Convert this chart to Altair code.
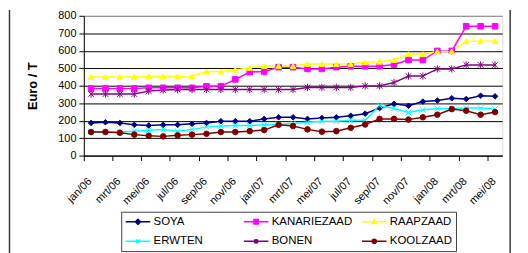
import altair as alt
import pandas as pd

months = ["jan/06", "feb/06", "mrt/06", "apr/06", "mei/06", "jun/06", "jul/06", "aug/06",
          "sep/06", "okt/06", "nov/06", "dec/06", "jan/07", "feb/07", "mrt/07", "apr/07",
          "mei/07", "jun/07", "jul/07", "aug/07", "sep/07", "okt/07", "nov/07", "dec/07",
          "jan/08", "feb/08", "mrt/08", "apr/08", "mei/08"]
tick_labels = months[::2]

series_names = ["SOYA", "KANARIEZAAD", "RAAPZAAD", "ERWTEN", "BONEN", "KOOLZAAD"]
soya = [187, 191, 187, 176, 172, 176, 176, 182, 187, 197, 197, 197, 210, 219, 219,
        210, 215, 219, 228, 240, 272, 296, 285, 309, 315, 328, 324, 343, 339]
kanariezaad = [384, 384, 384, 384, 388, 388, 388, 388, 397, 397, 436, 478, 481, 506, 506,
               496, 496, 506, 511, 511, 511, 521, 547, 547, 599, 599, 740, 740, 740]
raapzaad = [450, 450, 450, 450, 453, 453, 453, 453, 481, 481, 491, 502, 513, 513, 513,
            524, 524, 524, 524, 534, 537, 547, 581, 581, 596, 596, 655, 655, 655]
erwten = [138, 135, 135, 140, 145, 150, 140, 150, 163, 169, 172, 172, 176, 178, 184,
          191, 197, 197, 202, 202, 285, 270, 247, 262, 268, 268, 272, 272, 266]
bonen = [352, 352, 352, 352, 369, 375, 378, 378, 378, 378, 378, 378, 378, 378, 378,
         390, 390, 390, 390, 399, 399, 418, 455, 455, 496, 496, 519, 519, 519]
koolzaad = [135, 135, 131, 120, 114, 110, 116, 120, 125, 135, 135, 140, 146, 176, 169,
            150, 137, 140, 159, 178, 210, 210, 206, 219, 234, 266, 257, 234, 249]
y_ticks = [0, 100, 200, 300, 400, 500, 600, 700, 800]

colors = ["#000080", "#FF00FF", "#FFFF00", "#00FFFF", "#800080", "#800000"]
point_shapes = ["diamond", "square", "triangle-up",
                "M-1,-1L1,1M-1,1L1,-1",
                "M-1,-1L1,1M-1,1L1,-1M0,-1.3L0,1.3",
                "circle"]
# legend symbols: a short line with the marker in its middle (units of 5px)
legend_shapes = [
    "M-1.1,0H3.9M1.4,-0.52L1.92,0L1.4,0.52L0.88,0Z",
    "M-1.1,0H3.9M0.96,-0.44H1.84V0.44H0.96Z",
    "M-1.1,0H3.9M1.4,-0.52L1.88,0.36H0.92Z",
    "M-1.1,0H3.9M1.02,-0.38L1.78,0.38M1.02,0.38L1.78,-0.38",
    "M-1.1,0H3.9M1.02,-0.38L1.78,0.38M1.02,0.38L1.78,-0.38M1.4,-0.48V0.48",
    "M-1.1,0H3.9M1.82,0A0.42,0.42,0,1,1,0.98,0A0.42,0.42,0,1,1,1.82,0Z",
]
# the legend grid fills column by column: order so rows read as in the reference
legend_order = [0, 3, 1, 4, 2, 5]
legend_domain = [series_names[i] for i in legend_order]
legend_colors = [colors[i] for i in legend_order]
legend_symbols = [legend_shapes[i] for i in legend_order]

rows = []
for name, vals in zip(series_names, [soya, kanariezaad, raapzaad, erwten, bonen, koolzaad]):
    for m, v in zip(months, vals):
        rows.append({"maand": m, "serie": name, "prijs": v})
df = pd.DataFrame(rows)

FONT = "Liberation Sans"

x_enc = alt.X("maand:N", sort=months,
              scale=alt.Scale(type="band", domain=months, paddingInner=0, paddingOuter=0),
              bandPosition=0.5,
              axis=alt.Axis(values=tick_labels, bandPosition=0, title=None, grid=False,
                            labelAngle=315, labelAlign="right", labelBaseline="top",
                            labelPadding=15, labelOffset=-5, labelFontSize=11, labelFont=FONT,
                            labelColor="black", tickSize=5, tickColor="black",
                            domainColor="black", labelOverlap=False))
y_enc = alt.Y("prijs:Q",
              scale=alt.Scale(domain=[0, 800], nice=False, zero=True),
              axis=alt.Axis(values=y_ticks, title="Euro / T", titleFontWeight="bold",
                            titleFontSize=13, titleFont=FONT, titleColor="black",
                            titleAngle=270, titleAlign="center", titleBaseline="middle",
                            titleX=-52, titleY=71,
                            labelFontSize=11, labelFont=FONT, labelColor="black",
                            labelPadding=3, tickSize=5, tickColor="black",
                            domainColor="black", grid=True,
                            gridColor=alt.condition("datum.value >= 800",
                                                    alt.value("#808080"), alt.value("black")),
                            gridOpacity=1, gridWidth=1))

base = alt.Chart(df)

lines = base.mark_line(strokeWidth=1.5).encode(
    x=x_enc, y=y_enc,
    color=alt.Color("serie:N", scale=alt.Scale(domain=series_names, range=colors), legend=None),
    detail="serie:N",
)

points = base.mark_point(filled=True, size=32, strokeWidth=1, opacity=1).encode(
    x=x_enc, y=y_enc,
    fill=alt.Fill("serie:N", scale=alt.Scale(domain=series_names, range=colors), legend=None),
    stroke=alt.Stroke("serie:N", scale=alt.Scale(domain=series_names, range=colors), legend=None),
    shape=alt.Shape("serie:N", scale=alt.Scale(domain=series_names, range=point_shapes), legend=None),
)

leg = alt.Legend(title=None, orient="none", legendX=38, legendY=199, columns=3,
                 gridAlign="all", columnPadding=6, rowPadding=8, padding=4,
                 strokeColor="#404040", fillColor="white",
                 labelFont=FONT, labelFontSize=11.6, labelColor="black", labelOffset=16.8,
                 symbolSize=100, symbolStrokeWidth=1.5, symbolOpacity=1)

legend_layer = base.mark_point(filled=True, opacity=1).encode(
    x=x_enc, y=y_enc,
    fill=alt.Fill("serie:N", scale=alt.Scale(domain=legend_domain, range=legend_colors), legend=leg),
    stroke=alt.Stroke("serie:N", scale=alt.Scale(domain=legend_domain, range=legend_colors), legend=leg),
    shape=alt.Shape("serie:N", scale=alt.Scale(domain=legend_domain, range=legend_symbols), legend=leg),
).transform_filter("false")

frame_df = pd.DataFrame({"k": [0]})
right_border = alt.Chart(frame_df).mark_rule(color="#3a3a3a", strokeWidth=1.5).encode(
    x=alt.value(433), y=alt.value(-6), y2=alt.value(245))
left_border = alt.Chart(frame_df).mark_rule(color="#3a3a3a", strokeWidth=1.5).encode(
    x=alt.value(-75.5), y=alt.value(-6), y2=alt.value(245))

chart = alt.layer(lines, points, legend_layer, right_border, left_border).resolve_scale(
    color="independent", fill="independent", stroke="independent", shape="independent"
).properties(
    width=425, height=142,
    autosize=alt.AutoSizeParams(type="none"),
    padding={"left": 77, "top": 6, "right": 18, "bottom": 97},
).configure_view(
    fill="#C0C0C0", stroke="#808080", strokeWidth=1
).configure(background="white")

chart.save("out.html", embed_options={"renderer": "svg", "actions": False})
